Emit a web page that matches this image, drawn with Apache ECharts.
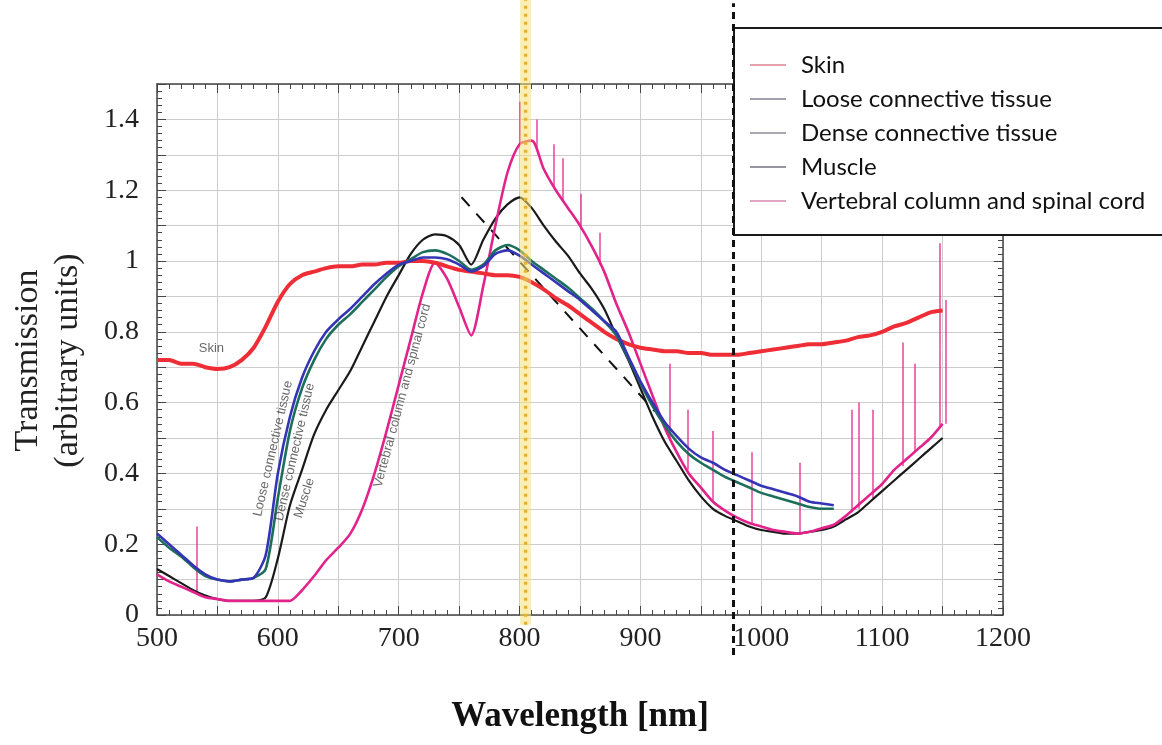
<!DOCTYPE html>
<html lang="en">
<head>
  <meta charset="UTF-8">
  <title>Tissue transmission spectra</title>
  <script src="https://cdn.jsdelivr.net/npm/echarts@6.0.0/dist/echarts.min.js"></script>
  <style>
    html, body { margin: 0; padding: 0; background: #fff; }
    #chart { width: 1162px; height: 745px; }
  </style>
</head>
<body>
<div id="chart"></div>
<script>
  // wavelength grid (nm), one value per 10 nm
  var wavelengths = [
    500, 510, 520, 530, 540, 550, 560, 570, 580, 590,
    600, 610, 620, 630, 640, 650, 660, 670, 680, 690,
    700, 710, 720, 730, 740, 750, 760, 770, 780, 790,
    800, 810, 820, 830, 840, 850, 860, 870, 880, 890,
    900, 910, 920, 930, 940, 950, 960, 970, 980, 990,
    1000, 1010, 1020, 1030, 1040, 1050, 1060, 1070, 1080, 1090,
    1100, 1110, 1120, 1130, 1140, 1150
  ]

  var skin = [
    0.72, 0.72, 0.71, 0.71, 0.70, 0.695, 0.70, 0.72, 0.755, 0.815,
    0.885, 0.935, 0.96, 0.97, 0.98, 0.985, 0.985, 0.99, 0.99, 0.995,
    0.995, 1.0, 1.0, 0.995, 0.985, 0.975, 0.97, 0.965, 0.96, 0.96,
    0.955, 0.94, 0.92, 0.895, 0.875, 0.85, 0.825, 0.80, 0.78, 0.765,
    0.755, 0.75, 0.745, 0.745, 0.74, 0.74, 0.735, 0.735, 0.735, 0.74,
    0.745, 0.75, 0.755, 0.76, 0.765, 0.765, 0.77, 0.775, 0.785, 0.79,
    0.80, 0.815, 0.825, 0.84, 0.855, 0.86
  ]

  var looseTissue = [
    0.23, 0.20, 0.17, 0.14, 0.115, 0.10, 0.095, 0.10, 0.105, 0.17,
    0.40, 0.56, 0.67, 0.745, 0.80, 0.835, 0.865, 0.90, 0.935, 0.965,
    0.99, 1.0, 1.01, 1.01, 1.005, 0.99, 0.97, 0.985, 1.02, 1.03,
    1.015, 0.99, 0.965, 0.94, 0.915, 0.89, 0.86, 0.83, 0.80, 0.73,
    0.66, 0.60, 0.545, 0.505, 0.47, 0.445, 0.43, 0.41, 0.395, 0.38,
    0.365, 0.355, 0.345, 0.335, 0.32, 0.315, 0.31, null, null, null,
    null, null, null, null, null, null
  ]

  var denseTissue = [
    0.22, 0.19, 0.165, 0.135, 0.11, 0.10, 0.095, 0.10, 0.105, 0.13,
    0.33, 0.52, 0.64, 0.72, 0.78, 0.82, 0.85, 0.885, 0.92, 0.955,
    0.985, 1.005, 1.025, 1.03, 1.02, 1.0, 0.975, 0.99, 1.03, 1.045,
    1.03, 1.0, 0.975, 0.95, 0.925, 0.895, 0.865, 0.83, 0.79, 0.725,
    0.655, 0.59, 0.535, 0.49, 0.455, 0.43, 0.41, 0.39, 0.375, 0.36,
    0.345, 0.335, 0.325, 0.315, 0.305, 0.30, 0.30, null, null, null,
    null, null, null, null, null, null
  ]

  var muscle = [
    0.13, 0.11, 0.09, 0.07, 0.055, 0.045, 0.04, 0.04, 0.04, 0.05,
    0.16, 0.31, 0.41, 0.51, 0.58, 0.635, 0.69, 0.76, 0.83, 0.90,
    0.96, 1.02, 1.06, 1.075, 1.07, 1.045, 0.99, 1.06, 1.12, 1.16,
    1.18, 1.15, 1.10, 1.055, 1.015, 0.965, 0.92, 0.865, 0.79, 0.72,
    0.64, 0.56, 0.49, 0.435, 0.38, 0.335, 0.30, 0.28, 0.265, 0.25,
    0.24, 0.235, 0.23, 0.23, 0.235, 0.24, 0.25, 0.27, 0.29, 0.32,
    0.35, 0.38, 0.41, 0.44, 0.47, 0.50
  ]

  var vertebral = [
    0.115, 0.095, 0.08, 0.065, 0.05, 0.045, 0.04, 0.04, 0.04, 0.04,
    0.04, 0.04, 0.07, 0.11, 0.155, 0.19, 0.23, 0.30, 0.40, 0.52,
    0.65, 0.78, 0.91, 0.995, 0.95, 0.87, 0.79, 0.93, 1.10, 1.25,
    1.33, 1.34, 1.26, 1.20, 1.15, 1.10, 1.04, 0.97, 0.88, 0.80,
    0.71, 0.62, 0.53, 0.46, 0.40, 0.36, 0.32, 0.295, 0.275, 0.26,
    0.25, 0.24, 0.235, 0.23, 0.235, 0.245, 0.255, 0.28, 0.31, 0.34,
    0.37, 0.41, 0.44, 0.47, 0.50, 0.54
  ]

  // narrow spikes on the vertebral trace: [nm, from, to]
  var vertebralSpikes = [
    [533, 0.06, 0.25], [800, 1.33, 1.45], [814, 1.32, 1.40], [828, 1.21, 1.33],
    [836, 1.17, 1.29], [851, 1.09, 1.19], [866, 0.99, 1.08], [924, 0.50, 0.71],
    [939, 0.41, 0.58], [960, 0.32, 0.52], [992, 0.255, 0.46], [1032, 0.23, 0.43],
    [1075, 0.29, 0.58], [1081, 0.30, 0.60], [1092, 0.33, 0.58], [1117, 0.42, 0.77],
    [1127, 0.46, 0.71], [1148, 0.53, 1.05], [1153, 0.54, 0.89]
  ]

  // dashed guide line on the falling edge
  var guideLine = [[752, 1.18], [912, 0.575]]

  // laser lines (nm)
  var laserYellow = 805
  var laserBlack = 977

  // small labels written along the curves
  var curveNotes = [
    { text: 'Skin', nm: 545, val: 0.752, rotate: 0 },
    { text: 'Loose connective tissue', nm: 596, val: 0.47, rotate: 77 },
    { text: 'Dense connective tissue', nm: 614, val: 0.46, rotate: 77 },
    { text: 'Muscle', nm: 622, val: 0.33, rotate: 72 },
    { text: 'Vertebral column and spinal cord', nm: 703, val: 0.62, rotate: 75 }
  ]

  var names = ['Skin', 'Loose connective tissue', 'Dense connective tissue', 'Muscle', 'Vertebral column and spinal cord']
  var colors = ['#ef2d37', '#3434b4', '#1e6e5c', '#1a1a1a', '#e2238c']
  var legendColors = ['#e6a4aa', '#a2a2ae', '#a8aab0', '#96969e', '#e4a6c6']

  function pairs(vals) {
    var out = []
    for (var i = 0; i < wavelengths.length; i++) {
      if (vals[i] != null) out.push([wavelengths[i], vals[i]])
    }
    return out
  }

  function curve(idx, vals, width, z) {
    return {
      name: names[idx],
      type: 'line',
      data: pairs(vals),
      symbol: 'none',
      smooth: 0.25,
      silent: true,
      z: z,
      itemStyle: { color: colors[idx] },
      lineStyle: { color: colors[idx], width: width }
    }
  }

  var serif = "'Liberation Serif', 'DejaVu Serif', serif"
  var frame = '#444'
  var gridColor = '#cdcdcd'

  var chart = echarts.init(document.getElementById('chart'))

  chart.setOption({
    animation: false,
    backgroundColor: '#fff',
    grid: [
      { left: 157, right: 159, top: 84, bottom: 130 },  // plot
      { left: 157, right: 159, top: 0, bottom: 90 }     // overlay for laser lines
    ],
    xAxis: [
      {
        type: 'value', gridIndex: 0, min: 500, max: 1200, interval: 50, position: 'bottom',
        name: 'Wavelength [nm]', nameLocation: 'middle', nameGap: 84,
        nameTextStyle: { fontFamily: serif, fontSize: 35, fontWeight: 'bold', color: '#111' },
        axisLine: { show: true, onZero: false, lineStyle: { color: frame, width: 1.5 } },
        axisTick: { show: true, inside: true, length: 9, lineStyle: { color: frame } },
        minorTick: { show: true, splitNumber: 5, length: 5, lineStyle: { color: frame } },
        axisLabel: {
          fontFamily: serif, fontSize: 28, color: '#222', margin: 10,
          formatter: function (v) { return v % 100 === 0 ? String(v) : '' }
        },
        splitLine: { show: true, lineStyle: { color: gridColor, width: 1 } }
      },
      {
        type: 'value', gridIndex: 0, min: 500, max: 1200, interval: 50, position: 'top',
        axisLine: { show: true, onZero: false, lineStyle: { color: frame, width: 1.5 } },
        axisTick: { show: true, inside: true, length: 9, lineStyle: { color: frame } },
        minorTick: { show: true, splitNumber: 5, length: 5, lineStyle: { color: frame } },
        axisLabel: { show: false },
        splitLine: { show: false }
      },
      { type: 'value', gridIndex: 1, min: 500, max: 1200, show: false }
    ],
    yAxis: [
      {
        type: 'value', gridIndex: 0, min: 0, max: 1.5, interval: 0.1, position: 'left',
        name: 'Transmission\n(arbitrary units)', nameLocation: 'middle', nameGap: 69,
        nameTextStyle: { fontFamily: serif, fontSize: 34, lineHeight: 40, color: '#222', padding: [0, 22, 0, 0] },
        axisLine: { show: true, onZero: false, lineStyle: { color: frame, width: 1.5 } },
        axisTick: { show: true, inside: true, length: 9, lineStyle: { color: frame } },
        minorTick: { show: true, splitNumber: 5, length: 5, lineStyle: { color: frame } },
        axisLabel: {
          fontFamily: serif, fontSize: 28, color: '#222', margin: 18,
          formatter: function (v) {
            var r = Math.round(v * 10)
            return r % 2 === 0 ? String(r / 10) : ''
          }
        },
        splitLine: { show: true, lineStyle: { color: gridColor, width: 1 } }
      },
      {
        type: 'value', gridIndex: 0, min: 0, max: 1.5, interval: 0.1, position: 'right',
        axisLine: { show: true, onZero: false, lineStyle: { color: frame, width: 1.5 } },
        axisTick: { show: true, inside: true, length: 9, lineStyle: { color: frame } },
        minorTick: { show: true, splitNumber: 5, length: 5, lineStyle: { color: frame } },
        axisLabel: { show: false },
        splitLine: { show: false }
      },
      { type: 'value', gridIndex: 1, min: 0, max: 1, show: false }
    ],
    legend: {
      orient: 'vertical',
      left: 745,
      top: 48,
      icon: 'rect',
      itemWidth: 36,
      itemHeight: 2,
      itemGap: 10,
      selectedMode: false,
      z: 60,
      textStyle: { fontFamily: "'Lato', 'Open Sans', sans-serif", fontSize: 24, color: '#111', padding: [0, 0, 0, 10] },
      data: names.map(function (n, i) { return { name: n, itemStyle: { color: legendColors[i] } } })
    },
    graphic: [
      {
        type: 'rect', z: 50,
        shape: { x: 734, y: 28, width: 440, height: 207 },
        style: { fill: '#fff', stroke: '#1a1a1a', lineWidth: 2 }
      }
    ],
    series: [
      {
        name: 'guide', type: 'line', data: guideLine, symbol: 'none', silent: true, z: 2,
        lineStyle: { color: '#111', width: 2, type: [12, 10] }
      },
      curve(3, muscle, 2.2, 3),
      curve(4, vertebral, 2.6, 3),
      curve(0, skin, 4, 3),
      curve(2, denseTissue, 2.6, 3),
      curve(1, looseTissue, 2.6, 3),
      {
        name: 'spikes', type: 'lines', coordinateSystem: 'cartesian2d', silent: true, z: 3,
        data: vertebralSpikes.map(function (s) { return { coords: [[s[0], s[1]], [s[0], s[2]]] } }),
        lineStyle: { color: colors[4], width: 1.5, opacity: 0.85 }
      },
      {
        name: 'notes', type: 'scatter', symbolSize: 0, silent: true, z: 5,
        data: curveNotes.map(function (n) {
          return { value: [n.nm, n.val], name: n.text, label: { rotate: n.rotate } }
        }),
        label: {
          show: true, position: 'inside', formatter: '{b}',
          fontFamily: "'Liberation Sans', sans-serif", fontSize: 13, color: '#444'
        }
      },
      {
        name: 'laser band', type: 'line', xAxisIndex: 2, yAxisIndex: 2, symbol: 'none', silent: true, z: 4,
        data: [[laserYellow, 0.046], [laserYellow, 1]],
        lineStyle: { color: 'rgba(246, 224, 120, 0.55)', width: 11 }
      },
      {
        name: 'laser dots', type: 'line', xAxisIndex: 2, yAxisIndex: 2, symbol: 'none', silent: true, z: 4,
        data: [[laserYellow, 0.046], [laserYellow, 1]],
        lineStyle: { color: '#e6b42c', width: 3.5, type: [3, 5] }
      },
      {
        name: 'laser 2', type: 'line', xAxisIndex: 2, yAxisIndex: 2, symbol: 'none', silent: true, z: 70,
        data: [[laserBlack, 0], [laserBlack, 0.995]],
        lineStyle: { color: '#111', width: 3, type: [7, 5] }
      }
    ]
  })
</script>
</body>
</html>
